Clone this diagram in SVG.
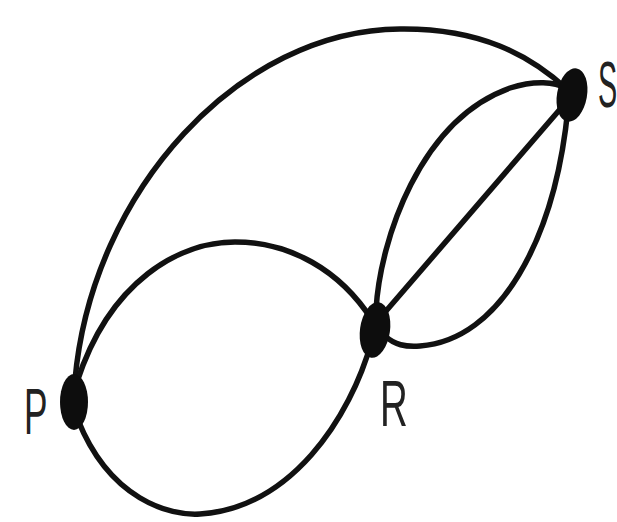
<svg xmlns="http://www.w3.org/2000/svg" width="617" height="522" viewBox="0 0 617 522">
<style>
.e{fill:none;stroke:#111;stroke-width:5.5;stroke-linecap:round}
.n{fill:#0d0d0d}
.l{font-family:"Liberation Sans",Arial,sans-serif;font-size:64px;fill:#222}
</style>
<rect width="617" height="522" fill="#fff"/>
<g id="connectors">
<path class="e" d="M75,380 C92,190 240,30 400,29 C480,28 530,55 568,90"/>
<path class="e" d="M77,382 C110,280 180,242 235,242 C290,242 340,270 372,320"/>
<path class="e" d="M78,420 C110,500 170,516 200,514 C290,508 350,420 372,340"/>
<path class="e" d="M380,318 L568,100"/>
<path class="e" d="M376,310 C380,240 420,120 510,88 C535,80 555,82 566,88"/>
<path class="e" d="M385,336 C395,345 405,347 420,346 C500,340 555,240 568,108"/>
</g>
<g id="P"><ellipse class="n" cx="74" cy="402" rx="14" ry="28"/><text class="l" transform="translate(24,434) scale(0.55,1)">P</text></g>
<g id="R"><ellipse class="n" cx="375" cy="330" rx="15" ry="28" transform="rotate(8 375 330)"/><text class="l" transform="translate(380,426) scale(0.6,1)">R</text></g>
<g id="S"><ellipse class="n" cx="572" cy="95" rx="15" ry="27" transform="rotate(10 572 95)"/><text class="l" transform="translate(598,107) scale(0.45,1)">S</text></g>
</svg>
